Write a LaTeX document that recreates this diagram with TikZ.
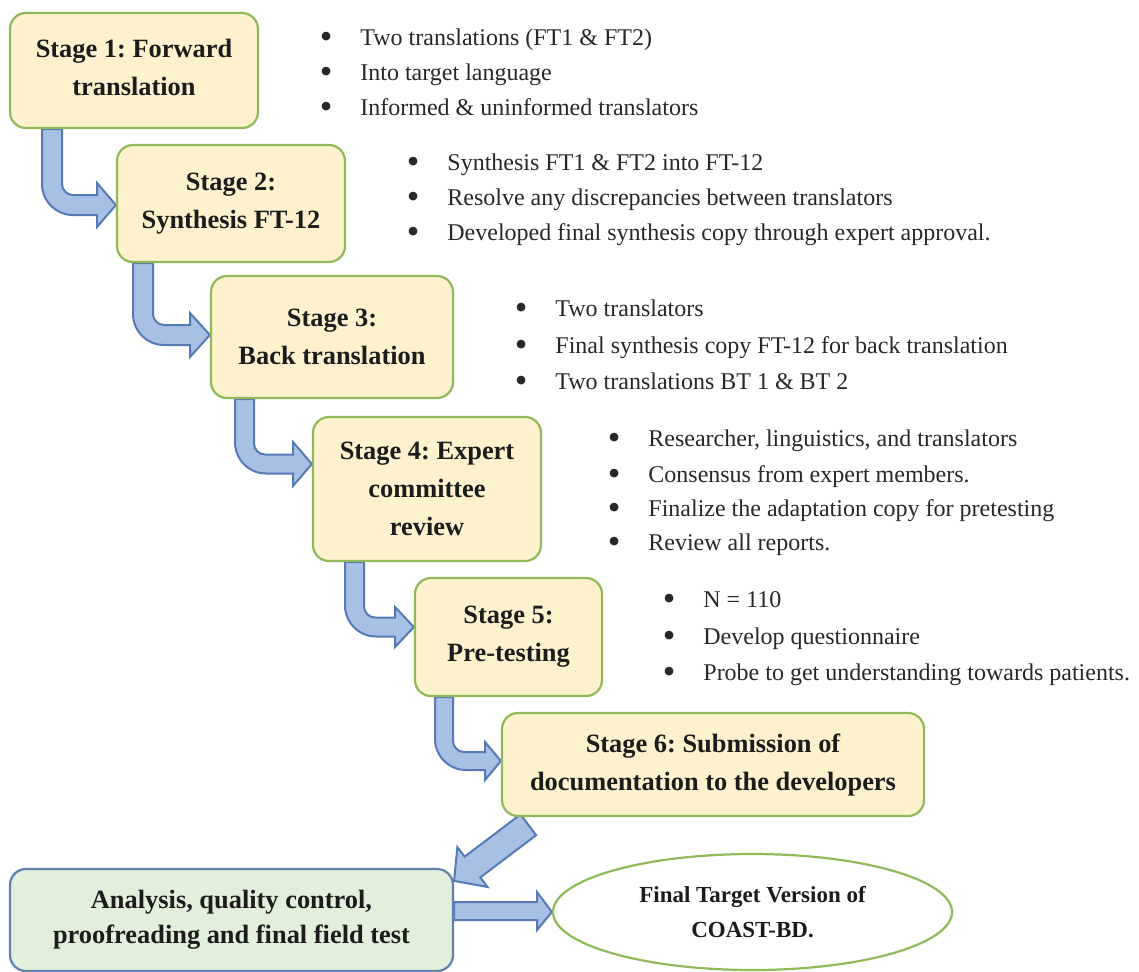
\documentclass[tikz,border=0pt]{standalone}
\usepackage{fontspec}
\setmainfont{Liberation Serif}
\usetikzlibrary{calc,backgrounds,shapes.geometric}
\definecolor{boxfill}{RGB}{253,242,205}
\definecolor{boxline}{RGB}{144,185,90}
\definecolor{gfill}{RGB}{226,239,218}
\definecolor{gline}{RGB}{96,130,175}
\definecolor{arrfill}{RGB}{168,192,228}
\definecolor{arrline}{RGB}{86,122,182}
\definecolor{txt}{RGB}{28,28,28}
\definecolor{btxt}{RGB}{40,40,40}
\newcommand{\bulletmark}{\llap{\raisebox{-1.6pt}{\fontsize{18}{18}\selectfont\textbullet}\hspace{14pt}}}
% #1 from node, #2 to node, #3 shaft left x, #4 shaft width, #5 shaft centre y, #6 head base x, #7 head half height
\newcommand{\bentarrow}[7]{%
  \coordinate (ba-l) at (#3,0);
  \coordinate (ba-r) at (#3+#4,0);
  \coordinate (ba-t) at (0,-#5);
  \draw[barrow] (#1.south -| ba-l)
    -- (#3,{-#5-#4/2+31})
    .. controls (#3,{-#5-#4/2+14}) and (#3+14,{-#5-#4/2}) .. (#3+31,{-#5-#4/2})
    -- (#6,{-#5-#4/2}) -- (#6,{-#5-#7}) -- (#2.west |- ba-t)
    -- (#6,{-#5+#7}) -- (#6,{-#5+#4/2})
    -- (#3+#4+11,{-#5+#4/2})
    .. controls (#3+#4+5,{-#5+#4/2}) and (#3+#4,{-#5+#4/2+5}) .. (#3+#4,{-#5+#4/2+11})
    -- (#1.south -| ba-r) -- cycle;
}
\frenchspacing
\begin{document}
\frenchspacing
\begin{tikzpicture}[x=0.5pt,y=0.5pt,
  stagebox/.style={draw=boxline, fill=boxfill, line width=1.1pt, rounded corners=8pt,
    align=center, inner sep=0pt, text=txt, font=\fontsize{13.2}{19}\selectfont\bfseries},
  greenbox/.style={draw=gline, fill=gfill, line width=1.1pt, rounded corners=8pt,
    align=center, inner sep=0pt, text=txt, font=\fontsize{13.2}{17.5}\selectfont\bfseries},
  finalell/.style={ellipse, draw=boxline, fill=white, line width=1.1pt, align=center,
    inner sep=0pt, text=txt, font=\fontsize{11.5}{17.5}\selectfont\bfseries},
  barrow/.style={draw=arrline, fill=arrfill, line width=1pt, line join=miter},
  bl/.style={anchor=base west, inner sep=0pt, text=btxt, font=\fontsize{12}{17}\selectfont}]
\useasboundingbox (0,0) rectangle (1139,-971);

% stage boxes
\node[stagebox, minimum width=124pt, minimum height=57.5pt, text depth=3pt] (s1) at (134,-70.5) {Stage 1: Forward\\translation};
\node[stagebox, minimum width=114pt, minimum height=58.5pt] (s2) at (231,-203.5) {Stage 2:\\Synthesis FT-12};
\node[stagebox, minimum width=121pt, minimum height=61pt] (s3) at (332,-337) {Stage 3:\\Back translation};
\node[stagebox, minimum width=114pt, minimum height=72pt] (s4) at (427,-489) {Stage 4: Expert\\committee\\review};
\node[stagebox, minimum width=93.5pt, minimum height=59pt] (s5) at (508.5,-637) {Stage 5:\\Pre-testing};
\node[stagebox, minimum width=211pt, minimum height=51.5pt] (s6) at (713,-764.5) {Stage 6: Submission of\\documentation to the developers};
\node[greenbox, minimum width=221.5pt, minimum height=51pt] (g) at (231.5,-920) {Analysis, quality control,\\proofreading and final field test};
\node[finalell, minimum width=199.5pt, minimum height=58pt] (e) at (752.5,-912) {Final Target Version of\\COAST-BD.};

% bullet lists
\node[bl] (b11) at (360,-45) {\bulletmark Two translations (FT1 \& FT2)};
\node[bl] (b12) at (360,-80) {\bulletmark Into target language};
\node[bl] (b13) at (360,-115) {\bulletmark Informed \& uninformed translators};

\node[bl] (b21) at (447,-170) {\bulletmark Synthesis FT1 \& FT2 into FT-12};
\node[bl] (b22) at (447,-205) {\bulletmark Resolve any discrepancies between translators};
\node[bl] (b23) at (447,-240) {\bulletmark Developed final synthesis copy through expert approval.};

\node[bl] (b31) at (555,-316) {\bulletmark Two translators};
\node[bl] (b32) at (555,-353) {\bulletmark Final synthesis copy FT-12 for back translation};
\node[bl] (b33) at (555,-389) {\bulletmark Two translations BT 1 \& BT 2};

\node[bl] (b41) at (648,-446) {\bulletmark Researcher, linguistics, and translators};
\node[bl] (b42) at (648,-482) {\bulletmark Consensus from expert members.};
\node[bl] (b43) at (648,-516) {\bulletmark Finalize the adaptation copy for pretesting};
\node[bl] (b44) at (648,-550) {\bulletmark Review all reports.};

\node[bl] (b51) at (703,-607) {\bulletmark N = 110};
\node[bl] (b52) at (703,-644) {\bulletmark Develop questionnaire};
\node[bl] (b53) at (703,-680) {\bulletmark Probe to get understanding towards patients.};

% block arrows (behind the boxes)
\begin{pgfonlayer}{background}
\fill[white] (0,0) rectangle (1139,-971);
\bentarrow{s1}{s2}{42}{20}{205}{97}{22}
\bentarrow{s2}{s3}{133}{20}{335}{190}{22}
\bentarrow{s3}{s4}{235}{19}{464}{293}{22}
\bentarrow{s4}{s5}{345}{19}{627}{395}{20}
\bentarrow{s5}{s6}{435}{18}{761}{485}{19}
\coordinate (dtip) at ($(g.north east)+(0,-13)$);
\begin{scope}[shift={(dtip)}, rotate=37.1]
\draw[barrow] (0,0) -- (23,25) -- (23,13) -- (93,13) -- (93,-13) -- (23,-13) -- (23,-25) -- cycle;
\end{scope}
\coordinate (h1) at (0,-902);
\coordinate (h2) at (0,-920);
\draw[barrow] (g.east |- h1) -- (537,-902) -- (537,-892) -- (e.west) -- (537,-930) -- (537,-920) -- (g.east |- h2) -- cycle;
\end{pgfonlayer}
\end{tikzpicture}
\end{document}
